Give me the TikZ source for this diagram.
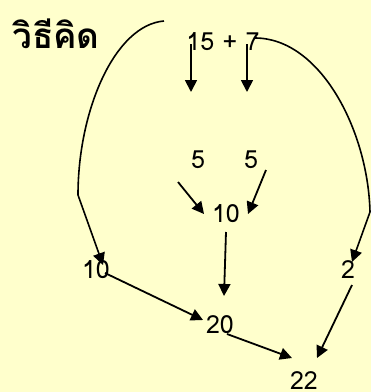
\documentclass[tikz,border=0pt]{standalone}
\usepackage{fontspec}
\newfontfamily\thaifont[Script=Thai]{Loma}
\usetikzlibrary{arrows.meta}
\definecolor{bgyellow}{HTML}{FFFFCC}
\begin{document}
\begin{tikzpicture}[x=1pt,y=-1pt,
  num/.style={inner sep=0pt,font=\thaifont\fontsize{25}{25}\selectfont},
  arr/.style={line width=1.8pt,-{Triangle[length=12pt,width=12pt]}},
  crv/.style={line width=1.6pt}]
\fill[bgyellow] (0,0) rectangle (371,392);
\useasboundingbox (0,0) rectangle (371,392);
\node[inner sep=0pt,font=\thaifont\bfseries\fontsize{35}{35}\selectfont] (title) at (56,34) {วิธีคิด};
\node[num] (expr) at (223,42) {15 + 7};
\node[num] (fa) at (198,160) {5};
\node[num] (fb) at (251,160) {5};
\node[num] (tm) at (226,214) {10};
\node[num] (tl) at (96,270) {10};
\node[num] (two) at (348,270) {2};
\node[num] (tw) at (220,325) {20};
\node[num] (res) at (304,381) {22};
% coordinates
\coordinate (d1s) at (191,44); \coordinate (d1e) at (191,92);
\coordinate (d2s) at (247,44); \coordinate (d2e) at (247,92);
\coordinate (lcs) at (164,21); \coordinate (lcm) at (78,195); \coordinate (lce) at (103,265);
\coordinate (rcs) at (255,38); \coordinate (rcm) at (370,212); \coordinate (rce) at (352,262);
\coordinate (a1s) at (178,182); \coordinate (a1e) at (204,214);
\coordinate (a2s) at (266,170); \coordinate (a2e) at (248,214);
\coordinate (vs) at (226,232); \coordinate (ve) at (224,296);
\coordinate (b1s) at (105,273); \coordinate (b1e) at (203,320);
\coordinate (b2s) at (227,334); \coordinate (b2e) at (292,358);
\coordinate (b3s) at (352,285); \coordinate (b3e) at (317,358);
\draw[arr] (d1s) -- (d1e);
\draw[arr] (d2s) -- (d2e);
\draw[crv] (lcs) .. controls (115,25) and (78,110) .. (lcm);
\draw[arr,line width=1.6pt] (lcm) -- (lce);
\draw[crv] (rcs) .. controls (320,38) and (368,130) .. (rcm);
\draw[arr,line width=1.6pt] (rcm) -- (rce);
\draw[arr] (a1s) -- (a1e);
\draw[arr] (a2s) -- (a2e);
\draw[arr] (vs) -- (ve);
\draw[arr] (b1s) -- (b1e);
\draw[arr] (b2s) -- (b2e);
\draw[arr] (b3s) -- (b3e);
\end{tikzpicture}
\end{document}
